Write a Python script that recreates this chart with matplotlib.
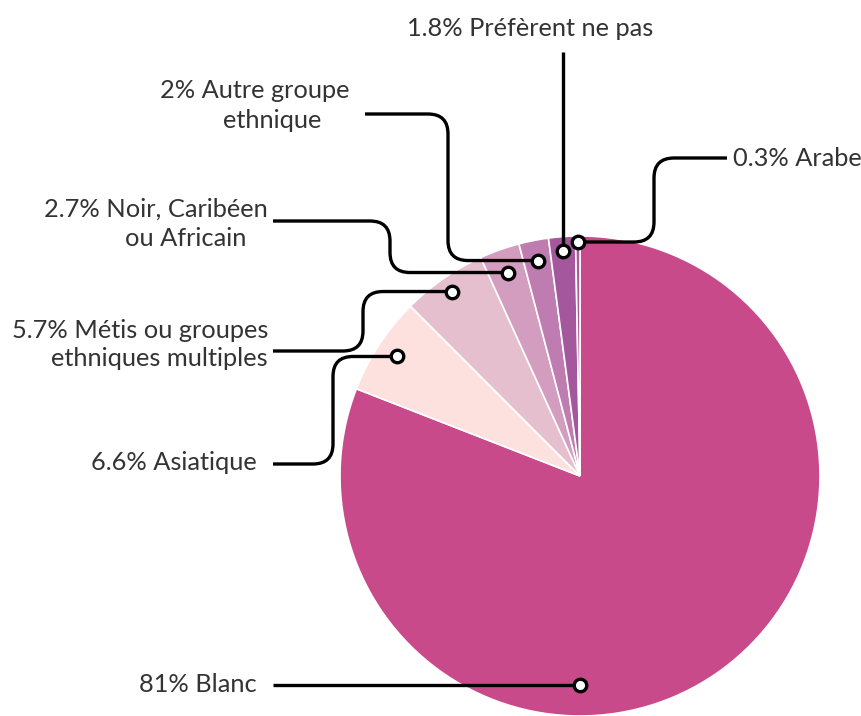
import numpy as np
import matplotlib.pyplot as plt
from matplotlib.path import Path
from matplotlib.patches import PathPatch

plt.rcParams['font.family'] = ['Lato', 'DejaVu Sans']

# data
labels = ['81% Blanc', '6.6% Asiatique', '5.7% Métis ou groupes\nethniques multiples',
          '2.7% Noir, Caribéen\nou Africain', '2% Autre groupe\nethnique',
          '1.8% Préfèrent ne pas', '0.3% Arabe']
values = [81, 6.6, 5.7, 2.7, 2, 1.8, 0.3]
colors = ['#C94A8B', '#FCE1DF', '#E5BFCE', '#D29DBF', '#BF7CB1', '#A5579D', '#B0589C']

W, H = 861, 716


def Y(y):
    # pixel row (from top) -> axis y
    return H - y


fig = plt.figure(figsize=(W / 100, H / 100), dpi=100)
ax = fig.add_axes([0, 0, 1, 1])

cx, cy, R = 580, Y(476), 240
wedges, _ = ax.pie(values, colors=colors, center=(cx, cy), radius=R, startangle=90,
                   counterclock=False, normalize=True,
                   wedgeprops=dict(edgecolor='white', linewidth=1.2))

ax.set_xlim(0, W)
ax.set_ylim(0, H)
ax.set_aspect('equal')
ax.axis('off')

# dot position for each slice (mid angle, Blanc pinned at the bottom)
dot_r = [0.87, 0.91, 0.935, 0.90, 0.915, 0.94, 0.975]
dots = []
for i, w in enumerate(wedges):
    ang = -90 if i == 0 else (w.theta1 + w.theta2) / 2
    rr = dot_r[i] * R
    dots.append((cx + rr * np.cos(np.radians(ang)), cy + rr * np.sin(np.radians(ang))))


def rounded(pts, r=20):
    pts = [np.array(p, float) for p in pts]
    verts, codes = [pts[0]], [Path.MOVETO]
    for i in range(1, len(pts) - 1):
        p0, p1, p2 = pts[i - 1], pts[i], pts[i + 1]
        l1, l2 = np.linalg.norm(p1 - p0), np.linalg.norm(p2 - p1)
        rr = min(r, l1 / 2, l2 / 2)
        a = p1 - (p1 - p0) / l1 * rr
        b = p1 + (p2 - p1) / l2 * rr
        verts += [a, p1, b]
        codes += [Path.LINETO, Path.CURVE3, Path.CURVE3]
    verts.append(pts[-1])
    codes.append(Path.LINETO)
    return Path(verts, codes)


# connector routes from label to dot
routes = [
    lambda d: [(273, d[1]), d],
    lambda d: [(273, Y(464)), (333, Y(464)), (333, d[1]), d],
    lambda d: [(273, Y(351)), (363, Y(351)), (363, d[1]), d],
    lambda d: [(273, Y(221)), (390, Y(221)), (390, d[1]), d],
    lambda d: [(365, Y(114)), (448, Y(114)), (448, d[1]), d],
    lambda d: [(d[0], Y(52)), d],
    lambda d: [(727, Y(158)), (654, Y(158)), (654, d[1]), d],
]

for route, d in zip(routes, dots):
    ax.add_patch(PathPatch(rounded(route(d)), fill=False, edgecolor='black', lw=2.4,
                           capstyle='butt', zorder=3))
    ax.plot(*d, 'o', ms=9, mfc='white', mec='black', mew=2.4, zorder=4)

# label text placement: (x, y-center of each line, ha)
text_pos = [
    ([257], [684], 'right'),
    ([257], [462], 'right'),
    ([268, 268], [331, 359], 'right'),
    ([268, 246], [209, 238], 'right'),
    ([350, 321], [90, 121], 'right'),
    ([530], [29], 'center'),
    ([733], [158], 'left'),
]

for lab, (xs, ys, ha) in zip(labels, text_pos):
    for line, x, y in zip(lab.split('\n'), xs, ys):
        ax.text(x, Y(y), line, ha=ha, va='center', fontsize=18.3, color='#333333')

fig.savefig('out.png', dpi=100)
